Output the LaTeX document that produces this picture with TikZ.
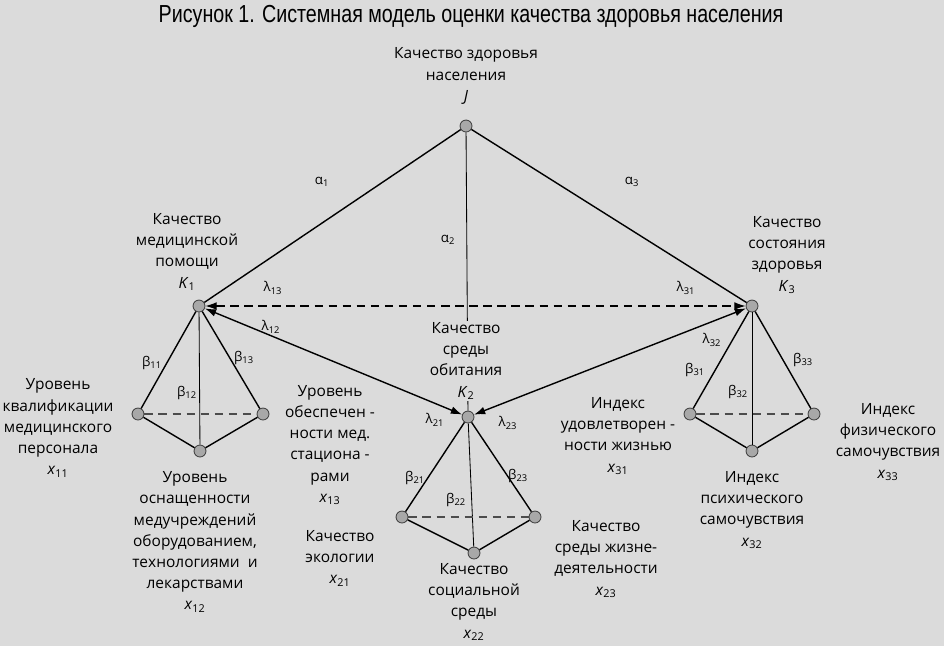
\documentclass[tikz,border=0pt]{standalone}
\usepackage{fontspec}
\setmainfont{Open Sans}
\newfontfamily\titlefont[FakeStretch=0.8]{Liberation Sans}
\usepackage{xcolor}
\usetikzlibrary{arrows.meta}
\definecolor{paper}{gray}{0.86}
\definecolor{knotgray}{gray}{0.66}
\newcommand{\ix}[2]{\textit{#1}\textsubscript{#2}}
\newcommand{\gk}[2]{#1\textsubscript{#2}}

\begin{document}
\begin{tikzpicture}[x=0.025cm,y=-0.025cm,>={Latex[length=8pt,width=5.5pt]},
  knot/.style={circle,draw=black!75,fill=knotgray,inner sep=0pt,minimum size=8.5pt,line width=0.6pt},
  lbl/.style={align=center,font=\fontsize{11}{15.1}\selectfont,inner sep=1pt},
  coef/.style={font=\fontsize{9.5}{11}\selectfont,inner sep=1pt},
  link/.style={line width=1pt},
  thin link/.style={line width=0.6pt},
  tie/.style={line width=0.8pt,dash pattern=on 6pt off 4pt}]
  \fill[paper] (0,0) rectangle (944,646);
  \useasboundingbox (0,0) rectangle (944,646);
  \node[font=\titlefont\fontsize{17.5}{20}\selectfont] (title) at (471,16) {Рисунок 1. Системная модель оценки качества здоровья населения};

  % top level
  \node[knot] (J) at (466,126) {};
  \node[knot] (K1) at (199,306) {};
  \node[knot] (K2) at (468,417) {};
  \node[knot] (K3) at (752,306) {};
  % indicators
  \node[knot] (x11) at (138,414) {};
  \node[knot] (x12) at (200,451) {};
  \node[knot] (x13) at (263,414) {};
  \node[knot] (x21) at (402,517) {};
  \node[knot] (x22) at (474,553) {};
  \node[knot] (x23) at (535,517) {};
  \node[knot] (x31) at (690,414) {};
  \node[knot] (x32) at (752,451) {};
  \node[knot] (x33) at (814,414) {};

  \draw[link] (J) -- (K1);
  \draw[link] (J) -- (K3);
  \draw[thin link] (J) -- (K2);

  \node[lbl,fill=paper] (tK2) at (466,361) {Качество\\среды\\обитания\\\ix{K}{2}};

  \draw[tie,<->] (K1) -- (K3);
  \draw[link,<->] (K1) -- (K2);
  \draw[link,<->] (K3) -- (K2);

  % clusters
  \foreach \k/\a/\b/\c in {K1/x11/x12/x13,K2/x21/x22/x23,K3/x31/x32/x33}{
    \draw[link] (\a) -- (\k) -- (\c);
    \draw[thin link] (\k) -- (\b);
    \draw[link] (\a) -- (\b) -- (\c);
    \draw[tie,black!70] (\a) -- (\c);
  }

  % coefficients
  \node[coef] (a1) at (322,182) {\gk{α}{1}};
  \node[coef] (a2) at (448,240) {\gk{α}{2}};
  \node[coef] (a3) at (632,182) {\gk{α}{3}};
  \node[coef] (l13) at (273,288) {\gk{λ}{13}};
  \node[coef] (l31) at (686,288) {\gk{λ}{31}};
  \node[coef] (l12) at (271,327) {\gk{λ}{12}};
  \node[coef] (l32) at (712,340) {\gk{λ}{32}};
  \node[coef] (l21) at (435,420) {\gk{λ}{21}};
  \node[coef] (l23) at (508,423) {\gk{λ}{23}};
  \node[coef] (b11) at (152,363) {\gk{β}{11}};
  \node[coef] (b12) at (187,393) {\gk{β}{12}};
  \node[coef] (b13) at (244,358) {\gk{β}{13}};
  \node[coef] (b21) at (415,478) {\gk{β}{21}};
  \node[coef] (b22) at (456,500) {\gk{β}{22}};
  \node[coef] (b23) at (518,476) {\gk{β}{23}};
  \node[coef] (b31) at (695,370) {\gk{β}{31}};
  \node[coef] (b32) at (738,392) {\gk{β}{32}};
  \node[coef] (b33) at (803,360) {\gk{β}{33}};

  % captions
  \node[lbl] (tJ) at (466,76) {Качество здоровья\\населения\\\textit{J}};
  \node[lbl] (tK1) at (187,252) {Качество\\медицинской\\помощи\\\ix{K}{1}};
  \node[lbl] (tK3) at (787,255) {Качество\\состояния\\здоровья\\\ix{K}{3}};
  \node[lbl] (t11) at (58,428) {Уровень\\квалификации\\медицинского\\персонала\\\ix{x}{11}};
  \node[lbl] (t12) at (195,542) {Уровень\\оснащенности\\медучреждений\\оборудованием,\\технологиями~~и\\лекарствами\\\ix{x}{12}};
  \node[lbl] (t13) at (330,445) {Уровень\\обеспечен -\\ности мед.\\стациона -\\рами\\\ix{x}{13}};
  \node[lbl] (t21) at (340,558) {Качество\\экологии\\\ix{x}{21}};
  \node[lbl] (t22) at (474,602) {Качество\\социальной\\среды\\\ix{x}{22}};
  \node[lbl] (t23) at (606,559) {Качество\\среды жизне-\\деятельности\\\ix{x}{23}};
  \node[lbl] (t31) at (618,436) {Индекс\\удовлетворен -\\ности жизнью\\\ix{x}{31}};
  \node[lbl] (t32) at (752,510) {Индекс\\психического\\самочувствия\\\ix{x}{32}};
  \node[lbl] (t33) at (888,442) {Индекс\\физического\\самочувствия\\\ix{x}{33}};
\end{tikzpicture}
\end{document}
